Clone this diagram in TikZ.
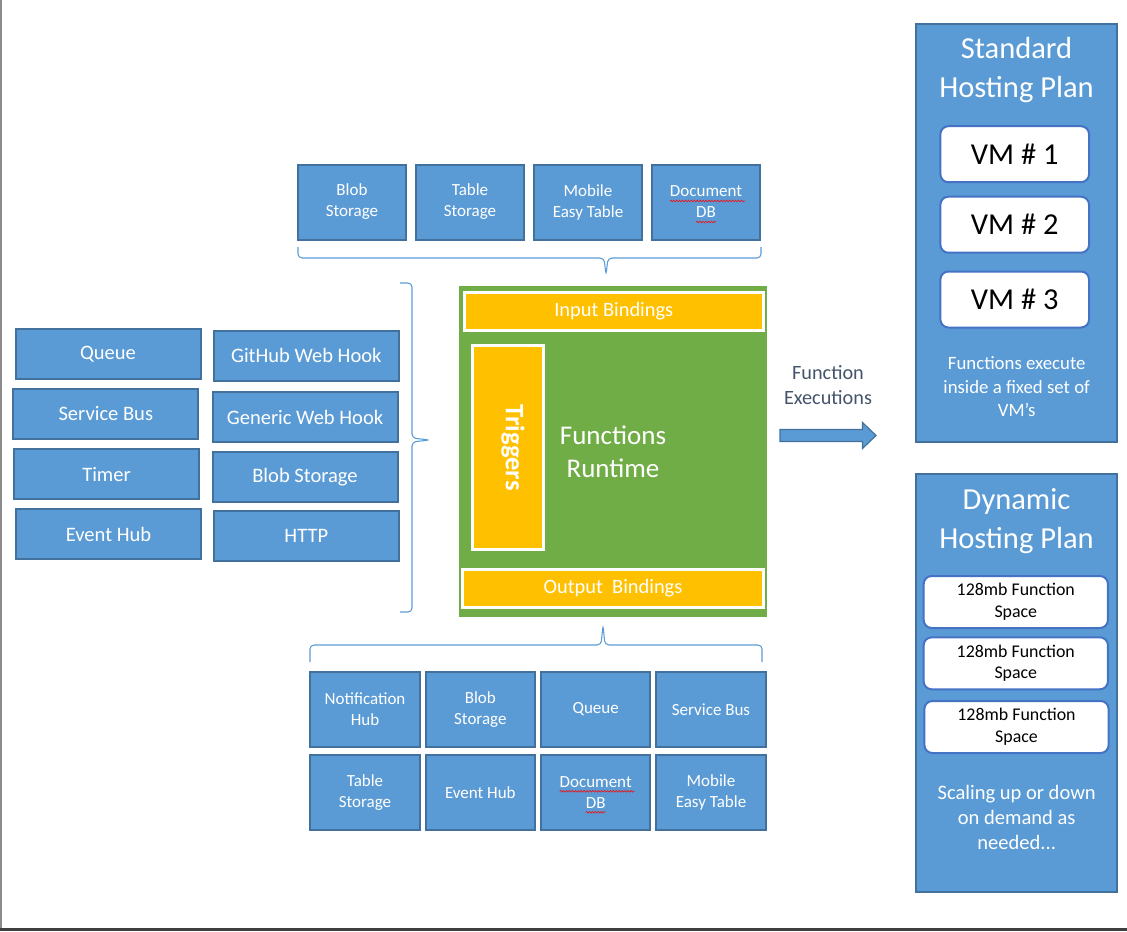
\documentclass[tikz,border=0pt]{standalone}
\usepackage{fontspec}
\setmainfont{Carlito}
\usepackage{tikz}
\usetikzlibrary{positioning,decorations.pathmorphing}
\definecolor{boxblue}{HTML}{5B9BD5}
\definecolor{boxline}{HTML}{41719C}
\definecolor{runtimegreen}{HTML}{70AD47}
\definecolor{bindgold}{HTML}{FFC000}
\definecolor{vmline}{HTML}{4472C4}
\definecolor{labelgray}{HTML}{44546A}
\definecolor{spellred}{HTML}{E81818}

\begin{document}
\begin{tikzpicture}[x=0.75pt, y=-0.75pt]
\tikzstyle{store}=[rectangle, draw=boxline, fill=boxblue, line width=1.5pt, minimum width=81pt, minimum height=56.25pt, inner sep=0pt, text=white, align=center, font=\fontsize{12.75}{15.75}\selectfont]
\tikzstyle{outstore}=[store, minimum width=82pt]
\tikzstyle{source}=[rectangle, draw=boxline, fill=boxblue, line width=1.5pt, minimum width=138.75pt, minimum height=37.5pt, inner sep=0pt, text=white, font=\fontsize{15.4}{18}\selectfont]
\tikzstyle{runtime}=[rectangle, fill=runtimegreen, minimum width=231pt, minimum height=248pt, inner sep=0pt]
\tikzstyle{binding}=[rectangle, draw=white, fill=bindgold, line width=2.25pt, minimum height=28.5pt, inner sep=0pt, text=white, font=\fontsize{15.3}{18}\selectfont]
\tikzstyle{plan}=[rectangle, draw=boxline, fill=boxblue, line width=1.5pt, minimum width=150.3pt, minimum height=313.5pt, inner sep=0pt]
\tikzstyle{plantitle}=[text=white, align=center, inner sep=0pt, font=\fontsize{22.9}{28.9}\selectfont]
\tikzstyle{vm}=[rectangle, rounded corners=6pt, draw=vmline, fill=white, line width=1.5pt, minimum width=111.5pt, minimum height=42pt, inner sep=0pt, font=\fontsize{22.8}{27}\selectfont]
\tikzstyle{slot}=[rectangle, rounded corners=6pt, draw=vmline, fill=white, line width=1.5pt, minimum width=138.2pt, minimum height=39pt, inner sep=0pt, align=center, font=\fontsize{13.4}{16.3}\selectfont]
\tikzstyle{brace}=[draw=boxblue, line width=0.8pt, rounded corners=3pt]
\tikzstyle{spell}=[draw=spellred, line width=0.5pt, decorate, decoration={snake, amplitude=0.6pt, segment length=2.2pt}]
  \useasboundingbox (0,0) rectangle (1127,931);
  \draw[black!45, line width=1.5pt] (1,0) -- (1,929);
  \draw[black!75, line width=2pt] (0,929.7) -- (1127,929.7);
  % storage on top
  \node[store] (blobT) at (352,202) {Blob\\Storage};
  \node[store, right=6pt of blobT] (tableT) {Table\\Storage};
  \node[store, right=6pt of tableT] (mobileT) {Mobile\\Easy Table};
  \node[store, right=6pt of mobileT] (docT) {Document\\DB};
  \draw[brace] (298,247) |- (604,258) -- (606,275) -- (608,258) -| (761,247);
  % triggers on the left
  \node[source] (queueL) at (108,354.2) {Queue};
  \node[source] (githubL) at (306.3,355.5) {GitHub Web Hook};
  \node[source] (busL) at (105.8,413.7) {Service Bus};
  \node[source] (genericL) at (305,417.3) {Generic Web Hook};
  \node[source] (timerL) at (106.5,474.3) {Timer};
  \node[source] (blobL) at (305,477.3) {Blob Storage};
  \node[source] (eventL) at (108.5,534.3) {Event Hub};
  \node[source] (httpL) at (306.3,536.3) {HTTP};
  \draw[brace] (400,283) -| (412,438) -- (430,440) -- (412,442) |- (400,612);
  % runtime
  \node[runtime] (runtime) at (613,451.3) {};
  \node[binding, minimum width=224.5pt] (input) at (613.8,311.5) {Input Bindings};
  \node[binding, minimum width=225.75pt, minimum height=29pt] (output) at (613,588.5) {Output\ \ Bindings};
  \node[binding, minimum width=53.25pt, minimum height=152.8pt] (triggers) at (508,447.3) {};
  \node[rotate=-90, text=white, inner sep=0pt, font=\fontsize{20}{24}\selectfont\bfseries] (triggerstext) at (513,447.5) {Triggers};
  \node[text=white, align=center, inner sep=0pt, font=\fontsize{20.25}{24.5}\selectfont] (runtimetext) at (613,452) {Functions\\Runtime};
  % executions
  \node[text=labelgray, align=center, inner sep=0pt, font=\fontsize{15.2}{18.75}\selectfont] (execlabel) at (828,385) {Function\\Executions};
  \draw[fill=boxblue, draw=boxline, line width=0.9pt] (780,429.5) -- (862.5,429.5) -- (862.5,422.5) -- (876,435.5) -- (862.5,448.5) -- (862.5,441.5) -- (780,441.5) -- cycle;
  % standard plan
  \node[plan] (standard) at (1016.5,233.3) {};
  \node[plantitle] (stdtitle) at (1016.5,70) {Standard\\Hosting Plan};
  \node[vm] (vm1) at (1014.7,154.2) {VM \# 1};
  \node[vm] (vm2) at (1014.7,224.7) {VM \# 2};
  \node[vm] (vm3) at (1014.7,299.5) {VM \# 3};
  \node[text=white, align=center, inner sep=0pt, font=\fontsize{14.1}{17.6}\selectfont] (stdnote) at (1016.7,387) {Functions execute\\inside a fixed set of\\VM’s};
  % dynamic plan
  \node[plan] (dynamic) at (1016.5,683.3) {};
  \node[plantitle] (dyntitle) at (1016.5,521) {Dynamic\\Hosting Plan};
  \node[slot] (slot1) at (1015.8,602) {128mb Function\\Space};
  \node[slot] (slot2) at (1015.8,663.3) {128mb Function\\Space};
  \node[slot] (slot3) at (1016.5,727) {128mb Function\\Space};
  \node[text=white, align=center, inner sep=0pt, font=\fontsize{15.4}{18.75}\selectfont] (dynnote) at (1016.7,817) {Scaling up or down\\on demand as\\needed...};
  % storage below
  \draw[brace] (310,662) |- (601,645) -- (603,625) -- (605,645) -| (762,662);
  \node[outstore] (notifB) at (365,709.3) {Notification\\Hub};
  \node[outstore, right=3pt of notifB] (blobB) {Blob\\Storage};
  \node[outstore, right=3pt of blobB] (queueB) {Queue};
  \node[outstore, right=3pt of queueB] (busB) {Service Bus};
  \node[outstore, below=4.5pt of notifB] (tableB) {Table\\Storage};
  \node[outstore, right=3pt of tableB] (eventB) {Event Hub};
  \node[outstore, right=3pt of eventB] (docB) {Document\\DB};
  \node[outstore, right=3pt of docB] (mobileB) {Mobile\\Easy Table};
  % spelling marks
  \foreach \n in {docT,docB} {
    \draw[spell] ([shift={(-36,-1)}]\n.center) -- ([shift={(39,-1)}]\n.center);
    \draw[spell] ([shift={(-10,20)}]\n.center) -- ([shift={(10,20)}]\n.center);
  }
\end{tikzpicture}
\end{document}
